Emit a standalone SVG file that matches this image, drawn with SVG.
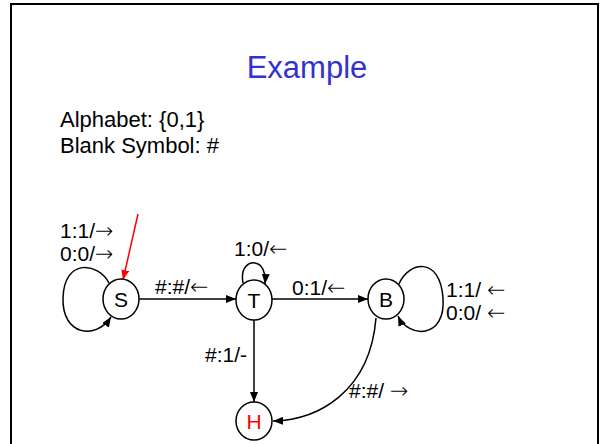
<svg xmlns="http://www.w3.org/2000/svg" width="600" height="444" viewBox="0 0 600 444">
<defs>
<marker id="ah" markerWidth="10" markerHeight="8" refX="10" refY="4" orient="auto" markerUnits="userSpaceOnUse">
<path d="M0,0 L10,4 L0,8 Z" fill="#000"/>
</marker>
<marker id="ahr" markerWidth="10" markerHeight="8" refX="10" refY="4" orient="auto" markerUnits="userSpaceOnUse">
<path d="M0,0 L10,4 L0,8 Z" fill="#ff0000"/>
</marker>
<style>
text{font-family:"Liberation Sans",Arial,sans-serif;fill:#000}
.lbl{font-size:21px}
.ar{font-family:"DejaVu Sans",sans-serif;font-weight:200;font-size:22px}
.node ellipse{fill:#fff;stroke:#000;stroke-width:1.5}
.node text{font-size:21px;text-anchor:middle}
.edge{fill:none;stroke:#000;stroke-width:1.5;marker-end:url(#ah)}
</style>
</defs>
<rect x="11" y="4" width="587" height="460" fill="#fff" stroke="#000" stroke-width="2"/>
<text x="307" y="78" font-size="31" text-anchor="middle" style="fill:#3333cc">Example</text>
<text x="60" y="127" font-size="22">Alphabet: {0,1}</text>
<text x="60" y="153" font-size="22">Blank Symbol: #</text>
<g id="connectors">
<path class="edge" d="M138,214 L123,280" style="stroke:#ff0000;marker-end:url(#ahr)"/>
<path class="edge" d="M109,283 C98,262 64,258 63,298 C62,336 96,340 111,317"/>
<path class="edge" d="M139,299 L236,299"/>
<path class="edge" d="M243,283 C240,266 250,262 255,263 C262,264 266,272 265,284"/>
<path class="edge" d="M272,299 L368,299"/>
<path class="edge" d="M399,284 C408,262 440,255 443,298 C446,340 408,338 398,316"/>
<path class="edge" d="M254,320 L254,402"/>
<path class="edge" d="M376,318 C370,392 318,420 273,421"/>
</g>
<g id="labels">
<text class="lbl" x="60" y="238">1:1/<tspan class="ar">→</tspan></text>
<text class="lbl" x="60" y="261">0:0/<tspan class="ar">→</tspan></text>
<text class="lbl" x="155" y="294">#:#/<tspan class="ar">←</tspan></text>
<text class="lbl" x="234" y="256">1:0/<tspan class="ar">←</tspan></text>
<text class="lbl" x="292" y="295">0:1/<tspan class="ar">←</tspan></text>
<text class="lbl" x="446" y="297">1:1/ <tspan class="ar">←</tspan></text>
<text class="lbl" x="446" y="320">0:0/ <tspan class="ar">←</tspan></text>
<text class="lbl" x="205" y="362">#:1/-</text>
<text class="lbl" x="349" y="398">#:#/ <tspan class="ar">→</tspan></text>
</g>
<g id="S" class="node"><ellipse cx="121" cy="299" rx="18" ry="20"/><text x="121" y="307">S</text></g>
<g id="T" class="node"><ellipse cx="254" cy="300" rx="18" ry="20"/><text x="254" y="308">T</text></g>
<g id="B" class="node"><ellipse cx="386" cy="299" rx="18" ry="20"/><text x="386" y="307">B</text></g>
<g id="H" class="node"><ellipse cx="254" cy="421" rx="18" ry="19"/><text x="254" y="429" style="fill:#ff0000">H</text></g>
</svg>
